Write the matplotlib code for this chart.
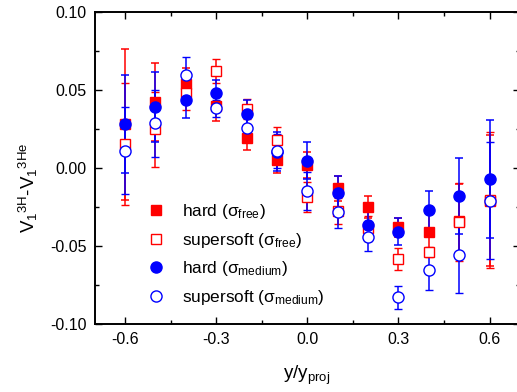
import matplotlib
matplotlib.use("Agg")
import matplotlib.pyplot as plt
from matplotlib.lines import Line2D
from matplotlib.ticker import MultipleLocator

plt.rcParams['font.family'] = ['Liberation Sans', 'DejaVu Sans']
plt.rcParams['mathtext.fontset'] = 'custom'
plt.rcParams['mathtext.rm'] = 'Liberation Sans'
plt.rcParams['mathtext.it'] = 'Liberation Sans'
plt.rcParams['mathtext.default'] = 'regular'

# rapidity bins
y = [-0.6, -0.5, -0.4, -0.3, -0.2, -0.1, 0.0, 0.1, 0.2, 0.3, 0.4, 0.5, 0.6]

# hard EoS, free cross section
hard_free = [0.028, 0.042, 0.054, 0.040, 0.019, 0.005, 0.002, -0.013, -0.025, -0.038, -0.041, -0.034, -0.021]
hard_free_err = [0.0485, 0.025, 0.010, 0.010, 0.0075, 0.008, 0.0085, 0.008, 0.007, 0.006, 0.012, 0.024, 0.042]

# supersoft EoS, free cross section
soft_free = [0.0154, 0.0248, 0.048, 0.062, 0.038, 0.018, -0.0184, -0.0276, -0.0387, -0.0583, -0.0538, -0.0348, -0.0205]
soft_free_err = [0.039, 0.024, 0.011, 0.0077, 0.0064, 0.008, 0.0095, 0.0085, 0.008, 0.0073, 0.003, 0.025, 0.0438]

# hard EoS, medium cross section
hard_med = [0.028, 0.039, 0.0438, 0.0481, 0.0344, 0.0105, 0.0047, -0.016, -0.0365, -0.0408, -0.0269, -0.0179, -0.0072]
hard_med_err = [0.0315, 0.0224, 0.0115, 0.0083, 0.009, 0.0124, 0.0117, 0.011, 0.0085, 0.0085, 0.0122, 0.0245, 0.038]

# supersoft EoS, medium cross section
soft_med = [0.011, 0.0287, 0.0594, 0.0383, 0.0258, 0.0109, -0.0147, -0.028, -0.0444, -0.0829, -0.0654, -0.0558, -0.021]
soft_med_err = [0.028, 0.0214, 0.012, 0.0054, 0.009, 0.011, 0.012, 0.0103, 0.0086, 0.0075, 0.0128, 0.0242, 0.0375]

labels = [r'hard ($\sigma_{free}$)', r'supersoft ($\sigma_{free}$)',
          r'hard ($\sigma_{medium}$)', r'supersoft ($\sigma_{medium}$)']

fig = plt.figure(figsize=(5.17, 3.92), dpi=100)
# right spine sits just outside the picture, as in the original
ax = fig.add_axes([0.1832, 0.1735, 0.8226, 0.796])

eb = dict(elinewidth=1.1, capsize=3, capthick=1.1, linestyle='none')
ax.errorbar(y, hard_free, yerr=hard_free_err, color='red', marker='s', ms=6.5,
            mfc='red', mec='red', **eb)
ax.errorbar(y, soft_free, yerr=soft_free_err, color='red', marker='s', ms=6.5,
            mfc='white', mec='red', mew=1.0, **eb)
ax.errorbar(y, hard_med, yerr=hard_med_err, color='blue', marker='o', ms=8,
            mfc='blue', mec='blue', **eb)
ax.errorbar(y, soft_med, yerr=soft_med_err, color='blue', marker='o', ms=8,
            mfc='white', mec='blue', mew=1.0, **eb)

ax.set_xlim(-0.7, 0.7)
ax.set_ylim(-0.1, 0.1)
ax.xaxis.set_major_locator(MultipleLocator(0.3))
ax.xaxis.set_minor_locator(MultipleLocator(0.15))
ax.yaxis.set_major_locator(MultipleLocator(0.05))
ax.yaxis.set_minor_locator(MultipleLocator(0.025))
ax.xaxis.set_major_formatter(plt.FuncFormatter(lambda v, p: '%.1f' % v))
ax.yaxis.set_major_formatter(plt.FuncFormatter(lambda v, p: '%.2f' % v))
ax.tick_params(which='both', direction='in', top=True, right=True, width=1.0,
               labelsize=11.5, pad=6)
ax.tick_params(which='major', length=5)
ax.tick_params(which='minor', length=3)
for s in ax.spines.values():
    s.set_linewidth(1.4)

# axis titles
fig.text(28 / 517, 1 - 188 / 392, r'$V_1{}^{3H}$-$V_1{}^{3He}$', rotation=90,
         ha='center', va='center', fontsize=13.5)
fig.text(307 / 517, 1 - 375 / 392, r'$y/y_{proj}$', ha='center', va='center',
         fontsize=13.5)

handles = [
    Line2D([], [], ls='none', marker='s', ms=6.5, mfc='red', mec='red'),
    Line2D([], [], ls='none', marker='s', ms=6.5, mfc='white', mec='red'),
    Line2D([], [], ls='none', marker='o', ms=8, mfc='blue', mec='blue'),
    Line2D([], [], ls='none', marker='o', ms=8, mfc='white', mec='blue'),
]
ax.legend(handles, labels, loc='upper left', bbox_to_anchor=(0.125, 0.39),
          frameon=False, fontsize=12.4, handlelength=1.0, handletextpad=1.0,
          borderpad=0, borderaxespad=0, labelspacing=0.55)

fig.savefig('out.png', dpi=100)
